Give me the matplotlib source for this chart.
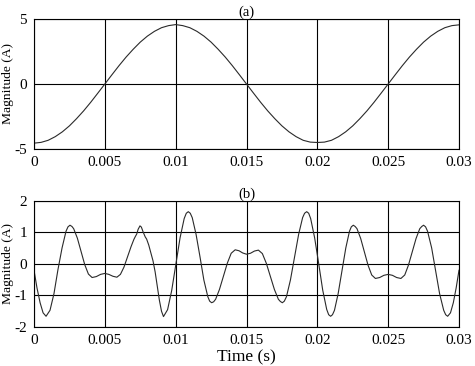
import numpy as np
import matplotlib
matplotlib.use('Agg')
import matplotlib.pyplot as plt

plt.rcParams['font.family'] = ['Liberation Serif', 'DejaVu Serif']
plt.rcParams['axes.unicode_minus'] = False

t_a_ms = np.arange(0, 30.5, 0.5)
i_a = [-4.55, -4.49, -4.33, -4.05, -3.68, -3.22, -2.67, -2.07, -1.41, -0.71, 0.0,
       0.71, 1.41, 2.07, 2.67, 3.22, 3.68, 4.05, 4.33, 4.49, 4.57,
       4.49, 4.33, 4.05, 3.68, 3.22, 2.67, 2.07, 1.41, 0.71, 0.0,
       -0.71, -1.41, -2.07, -2.67, -3.22, -3.68, -4.05, -4.33, -4.47, -4.5,
       -4.47, -4.33, -4.05, -3.68, -3.22, -2.67, -2.07, -1.41, -0.71, 0.0,
       0.71, 1.41, 2.07, 2.67, 3.22, 3.68, 4.05, 4.33, 4.49, 4.55]

# (b) distorted current (time in ms)
t_b_ms = [0.0, 0.21, 0.43, 0.64, 0.85,
          1.13, 1.41, 1.69, 1.98, 2.26, 2.40, 2.54,
          2.68, 2.80, 3.06, 3.32, 3.58, 3.84, 4.10,
          4.40, 4.70, 5.00, 5.28, 5.57, 5.85,
          6.10, 6.35, 6.60, 6.85, 7.05, 7.15, 7.25, 7.35, 7.48,
          7.58, 7.70, 7.85, 7.95, 8.10, 8.25, 8.40, 8.55, 8.70, 8.85, 9.00, 9.14,
          9.43, 9.72, 10.01, 10.31, 10.60, 10.75, 10.89,
          11.03, 11.17, 11.44, 11.72, 11.99, 12.27, 12.40, 12.54,
          12.68, 12.82, 13.09, 13.37, 13.65, 13.92, 14.20,
          14.47, 14.73, 15.00, 15.28, 15.56, 15.84,
          16.12, 16.40, 16.69, 16.97, 17.25, 17.39, 17.53,
          17.67, 17.82, 18.10, 18.39, 18.68, 18.96, 19.10, 19.25,
          19.39, 19.53, 19.81, 20.10, 20.38, 20.66, 20.80, 20.94,
          21.07, 21.21, 21.47, 21.74, 22.01, 22.27, 22.40, 22.54,
          22.67, 22.80, 23.06, 23.32, 23.58, 23.84, 24.10,
          24.40, 24.70, 25.00, 25.30, 25.60, 25.90,
          26.17, 26.43, 26.70, 26.97, 27.23, 27.37, 27.50,
          27.64, 27.78, 28.07, 28.35, 28.63, 28.92, 29.06, 29.20,
          29.40, 29.60, 29.80, 30.00]
i_b = [-0.20, -0.76, -1.23, -1.55, -1.66,
       -1.47, -0.94, -0.18, 0.51, 1.04, 1.18, 1.23,
       1.19, 1.12, 0.82, 0.40, -0.02, -0.32, -0.43,
       -0.40, -0.33, -0.30, -0.33, -0.39, -0.42,
       -0.33, -0.10, 0.22, 0.55, 0.78, 0.87, 0.95, 1.10, 1.21,
       1.17, 1.02, 0.86, 0.79, 0.60, 0.35, 0.10, -0.25, -0.70, -1.15, -1.50, -1.67,
       -1.45, -0.84, -0.01, 0.83, 1.44, 1.61, 1.66,
       1.61, 1.47, 0.94, 0.22, -0.51, -1.04, -1.18, -1.23,
       -1.20, -1.12, -0.81, -0.39, 0.03, 0.34, 0.45,
       0.42, 0.35, 0.31, 0.34, 0.41, 0.44,
       0.33, 0.02, -0.40, -0.81, -1.12, -1.19, -1.23,
       -1.18, -1.04, -0.51, 0.22, 0.94, 1.47, 1.61, 1.66,
       1.61, 1.44, 0.83, 0.0, -0.83, -1.44, -1.61, -1.66,
       -1.61, -1.47, -0.94, -0.22, 0.51, 1.04, 1.18, 1.23,
       1.19, 1.12, 0.81, 0.39, -0.04, -0.35, -0.46,
       -0.43, -0.36, -0.33, -0.36, -0.43, -0.46,
       -0.35, -0.04, 0.39, 0.81, 1.12, 1.19, 1.23,
       1.18, 1.04, 0.51, -0.22, -0.94, -1.47, -1.61, -1.66,
       -1.55, -1.23, -0.76, -0.20]

xticks = [0, 0.005, 0.01, 0.015, 0.02, 0.025, 0.03]
xticklabels = ['0', '0.005', '0.01', '0.015', '0.02', '0.025', '0.03']

fig = plt.figure(figsize=(4.75, 3.66), dpi=100)
ax1 = fig.add_axes([0.0716, 0.5929, 0.8947, 0.3552])
ax2 = fig.add_axes([0.0716, 0.1066, 0.8947, 0.3443])

ax1.plot(np.array(t_a_ms) / 1000, i_a, color='#2a2a2a', lw=0.8)
ax2.plot(np.array(t_b_ms) / 1000, i_b, color='#2a2a2a', lw=0.8)

for ax in (ax1, ax2):
    ax.set_xlim(0, 0.03)
    ax.set_xticks(xticks)
    ax.set_xticklabels(xticklabels)
    ax.grid(True, color='black', lw=0.8)
    ax.set_axisbelow(True)
    ax.tick_params(length=0, labelsize=11, pad=5)
    for s in ax.spines.values():
        s.set_linewidth(0.8)
    ax.set_ylabel('Magnitude (A)', fontsize=9.7)
    ax.yaxis.set_label_coords(-0.048, 0.5)

ax1.set_ylim(-5, 5)
ax1.set_yticks([-5, 0, 5])
ax1.set_title('(a)', fontsize=10.5, pad=2)

ax2.set_ylim(-2, 2)
ax2.set_yticks([-2, -1, 0, 1, 2])
ax2.set_title('(b)', fontsize=10.5, pad=2)
ax2.set_xlabel('Time (s)', fontsize=12.5, labelpad=2)

fig.savefig('out.png', dpi=100)
